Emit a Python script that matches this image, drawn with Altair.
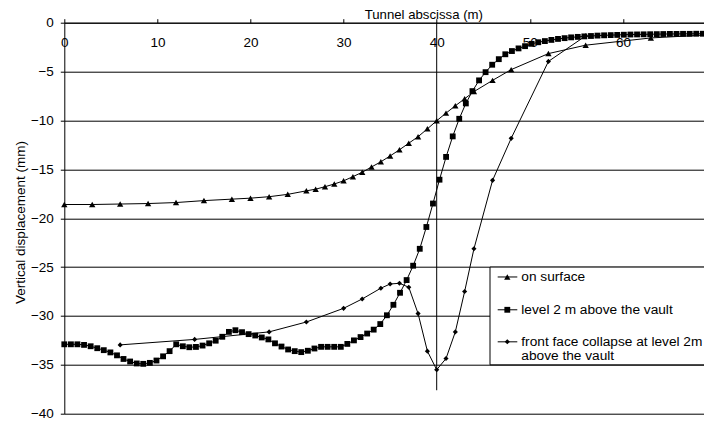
import altair as alt
import pandas as pd

# ---------------- data ----------------
surf_x = [0, 3, 6, 9, 12, 15, 18, 20, 22, 24, 26, 27, 28, 29, 30, 31, 32, 33, 34, 35,
          36, 37, 38, 39, 40, 41, 42, 43, 44, 46, 48, 52, 56, 63, 70]
surf_y = [-18.6, -18.6, -18.55, -18.5, -18.4, -18.2, -18.05, -17.95, -17.8, -17.56,
          -17.2, -17.03, -16.78, -16.5, -16.18, -15.75, -15.3, -14.76, -14.23, -13.63,
          -13.0, -12.33, -11.66, -10.86, -10.03, -9.25, -8.5, -7.78, -7.05, -5.9,
          -4.8, -3.16, -2.3, -1.56, -1.2]

lvl_x = [0.0, 0.71, 1.41, 2.12, 2.83, 3.54, 4.24, 4.95, 5.66, 6.36,
         7.07, 7.78, 8.48, 9.19, 9.90, 10.61, 11.31, 12.02, 12.73, 13.43,
         14.14, 14.85, 15.56, 16.26, 16.97, 17.68, 18.38, 19.09, 19.80, 20.51,
         21.21, 21.92, 22.63, 23.33, 24.04, 24.75, 25.45, 26.16, 26.87, 27.58,
         28.28, 28.99, 29.70, 30.40, 31.11, 31.82, 32.53, 33.23, 33.94, 34.65,
         35.35, 36.06, 36.77, 37.47, 38.18, 38.89, 39.60, 40.30, 41.01, 41.72,
         42.42, 43.13, 43.84, 44.55, 45.25, 45.96, 46.67, 47.37, 48.08, 48.79,
         49.49, 50.20, 50.91, 51.62, 52.32, 53.03, 53.74, 54.44, 55.15, 55.86,
         56.57, 57.27, 57.98, 58.69, 59.39, 60.10, 60.81, 61.52, 62.22, 62.93,
         63.64, 64.34, 65.05, 65.76, 66.46, 67.17, 67.88, 68.59, 69.29, 70.00]
lvl_y = [-32.9, -32.9, -32.9, -32.96, -33.1, -33.3, -33.5, -33.73, -34.03, -34.4,
         -34.66, -34.86, -34.9, -34.8, -34.56, -34.13, -33.6, -32.9, -33.1, -33.2,
         -33.17, -33.03, -32.8, -32.53, -32.13, -31.63, -31.46, -31.66, -31.86, -32.0,
         -32.2, -32.4, -32.8, -33.13, -33.43, -33.6, -33.7, -33.56, -33.33, -33.16,
         -33.16, -33.16, -33.16, -32.86, -32.5, -32.16, -31.8, -31.4, -30.83, -29.93,
         -28.86, -27.63, -26.33, -24.86, -23.13, -20.9, -18.5, -16.06, -13.73, -11.63,
         -9.83, -8.26, -7.0, -5.9, -5.06, -4.3, -3.73, -3.23, -2.9, -2.63,
         -2.4, -2.16, -2.0, -1.88, -1.76, -1.66, -1.58, -1.5, -1.45, -1.4,
         -1.36, -1.32, -1.29, -1.27, -1.25, -1.23, -1.21, -1.2, -1.19, -1.18,
         -1.17, -1.16, -1.15, -1.15, -1.14, -1.14, -1.13, -1.13, -1.13, -1.13]

face_x = [6, 14, 22, 26, 30, 32, 34, 35, 36, 37, 38, 39, 40, 41, 42, 43, 44, 46, 48, 52, 56]
face_y = [-32.96, -32.4, -31.63, -30.62, -29.22, -28.26, -27.16, -26.73, -26.66, -27.06,
          -29.76, -33.6, -35.5, -34.36, -31.63, -27.5, -23.13, -16.13, -11.83, -3.96, -1.35]

front_x = [40]
front_top = [0]
front_bottom = [-37.6]

x_ticks = [0, 10, 20, 30, 40, 50, 60, 70]
y_ticks = [0, -5, -10, -15, -20, -25, -30, -35, -40]

legend_labels = ["on surface", "level 2 m above the vault",
                 "front face collapse at level 2m", "above the vault"]

# ---------------- chart ----------------
FONT = "Liberation Sans"
FS = 13.5
PW, PH = 639.7, 391          # plot area
XMAX = PW / 9.31             # keep 9.31 px per metre as in the reference
K = PH / 40.0                # px per mm

xs = alt.Scale(domain=[0, XMAX], nice=False, zero=False)
ys = alt.Scale(domain=[-40, 0], nice=False, zero=False)

x_axis = alt.Axis(orient="top", values=x_ticks, title="Tunnel abscissa (m)", grid=False,
                  domainColor="black", domainWidth=1, tickColor="black", tickSize=4,
                  labelPadding=-24, labelBaseline="middle", labelFlush=False,
                  labelFont=FONT, labelFontSize=FS, labelColor="black",
                  titleFont=FONT, titleFontSize=13.2, titleFontWeight="normal",
                  titleColor="black", titleX=359, titleY=-4.3,
                  titleBaseline="alphabetic", titleAlign="center")
y_axis = alt.Axis(orient="left", values=y_ticks, title="Vertical displacement (mm)",
                  grid=True, gridColor="black", gridWidth=1, gridOpacity=1,
                  domainColor="black", domainWidth=1, tickColor="black", tickSize=4,
                  labelPadding=7, labelFont=FONT, labelFontSize=FS, labelColor="black",
                  titleFont=FONT, titleFontSize=13.5, titleFontWeight="normal",
                  titleColor="black", titleAngle=270, titleX=-40, titleY=PH / 2 + 3.8,
                  titleBaseline="alphabetic", titleAlign="center")

X = lambda: alt.X("x:Q", scale=xs, axis=x_axis)
Y = lambda: alt.Y("y:Q", scale=ys, axis=y_axis)

surf = pd.DataFrame({"x": surf_x, "y": surf_y})
lvl = pd.DataFrame({"x": lvl_x, "y": lvl_y})
face = pd.DataFrame({"x": face_x, "y": face_y})
front = pd.DataFrame({"x": front_x, "y": front_top, "y2": front_bottom})


def series(df, shape, size):
    return alt.Chart(df).mark_line(
        color="black", strokeWidth=1,
        point=alt.OverlayMarkDef(shape=shape, size=size, filled=True,
                                 color="black", opacity=1)
    ).encode(x=X(), y=Y())


front_rule = alt.Chart(front).mark_rule(color="black", strokeWidth=1).encode(
    x=X(), y=Y(), y2="y2:Q")

# legend box spans the -25 .. -35 band, as in the reference
box_top, box_bot = 25 * K, 35 * K
one = pd.DataFrame({"a": [0]})
leg_box = alt.Chart(one).mark_rect(fill="white", stroke="black", strokeWidth=1).encode(
    x=alt.value(425.7), x2=alt.value(720), y=alt.value(box_top), y2=alt.value(box_bot))

f = (box_bot - box_top) / 100.7
row_y = [box_top + 10.2 * f, box_top + 44.0 * f, box_top + 77.0 * f]

leg_layers = [leg_box]
for yy, shp, sz in zip(row_y, ["triangle-up", "square", "diamond"], [40, 34, 26]):
    leg_layers.append(alt.Chart(one).mark_rule(color="black", strokeWidth=1).encode(
        x=alt.value(433.4), x2=alt.value(453), y=alt.value(yy)))
    leg_layers.append(alt.Chart(one).mark_point(shape=shp, size=sz, filled=True,
                                                color="black", opacity=1).encode(
        x=alt.value(443), y=alt.value(yy)))
leg_texts = [(legend_labels[0], row_y[0]), (legend_labels[1], row_y[1]),
             ([legend_labels[2], legend_labels[3]], row_y[2])]
for lab, yy in leg_texts:
    leg_layers.append(alt.Chart(one).mark_text(
        text=lab, font=FONT, fontSize=13.7, lineHeight=14, color="black",
        align="left", baseline="middle").encode(x=alt.value(457), y=alt.value(yy)))

chart = alt.layer(
    front_rule,
    series(face, "diamond", 26),
    series(surf, "triangle-up", 40),
    series(lvl, "square", 34),
    *leg_layers
).properties(
    width=PW, height=PH,
    autosize=alt.AutoSizeParams(type="none"),
    padding={"left": 56.3, "top": 14.7, "right": 0, "bottom": 415 - 14.7 - PH},
).configure_view(stroke=None)

chart.save("out.html", embed_options={"renderer": "svg", "actions": False})
